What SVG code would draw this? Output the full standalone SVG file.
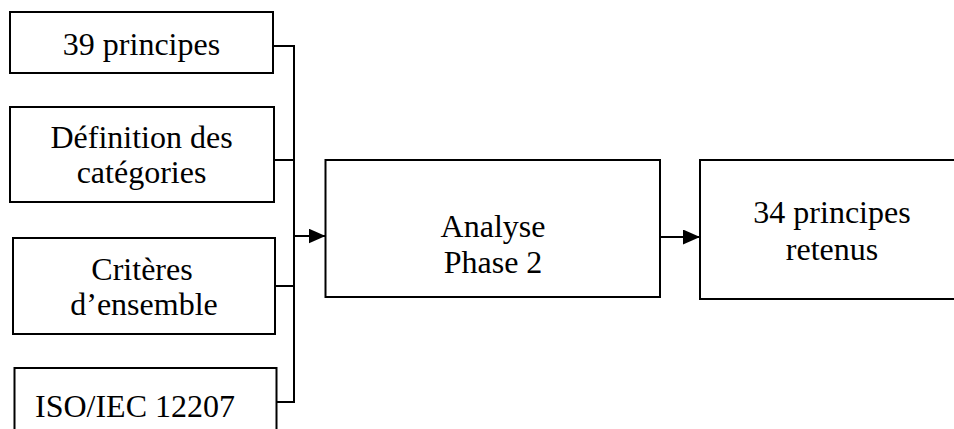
<svg xmlns="http://www.w3.org/2000/svg" width="954" height="429" viewBox="0 0 954 429">
  <style>
    .box { fill: #ffffff; stroke: #000000; stroke-width: 2; }
    .lbl { font-family: "Liberation Serif", "Times New Roman", serif; font-size: 32px; fill: #000000; text-anchor: middle; }
    .lbl-left { font-family: "Liberation Serif", "Times New Roman", serif; font-size: 32px; fill: #000000; }
    .wire { fill: none; stroke: #000000; stroke-width: 2; }
  </style>
  <defs>
    <marker id="arrow" markerWidth="17" markerHeight="15" refX="17" refY="7.5" orient="auto" markerUnits="userSpaceOnUse">
      <path d="M0,0 L17,7.5 L0,15 Z" fill="#000000"/>
    </marker>
  </defs>
  <rect width="954" height="429" fill="#ffffff"/>

  <g id="node-39-principes">
    <rect class="box" x="10" y="12" width="263" height="61"/>
    <text class="lbl" x="141.5" y="55">39 principes</text>
  </g>

  <g id="node-definition">
    <rect class="box" x="10" y="107" width="264" height="95"/>
    <text class="lbl" x="141.5" y="148">Définition des</text>
    <text class="lbl" x="141.5" y="183">catégories</text>
  </g>

  <g id="node-criteres">
    <rect class="box" x="13" y="238" width="262" height="96"/>
    <text class="lbl" x="142" y="280">Critères</text>
    <text class="lbl" x="144" y="315">d’ensemble</text>
  </g>

  <g id="node-iso">
    <rect class="box" x="14.5" y="368" width="262" height="80"/>
    <text class="lbl-left" x="35" y="416.5">ISO/IEC 12207</text>
  </g>

  <g id="node-analyse">
    <rect class="box" x="325.5" y="160" width="334.5" height="137"/>
    <text class="lbl" x="493" y="237">Analyse</text>
    <text class="lbl" x="493" y="273">Phase 2</text>
  </g>

  <g id="node-retenus">
    <rect class="box" x="700" y="160" width="270" height="139"/>
    <text class="lbl" x="832" y="223">34 principes</text>
    <text class="lbl" x="832" y="260">retenus</text>
  </g>

  <g id="connectors">
    <path class="wire" d="M273,46 H294"/>
    <path class="wire" d="M274,160 H294"/>
    <path class="wire" d="M275,286 H294"/>
    <path class="wire" d="M276.5,402 H294"/>
    <path class="wire" d="M294,45 V403"/>
    <path class="wire" d="M294,236 H325.5" marker-end="url(#arrow)"/>
    <path class="wire" d="M660,237 H700" marker-end="url(#arrow)"/>
  </g>
</svg>
